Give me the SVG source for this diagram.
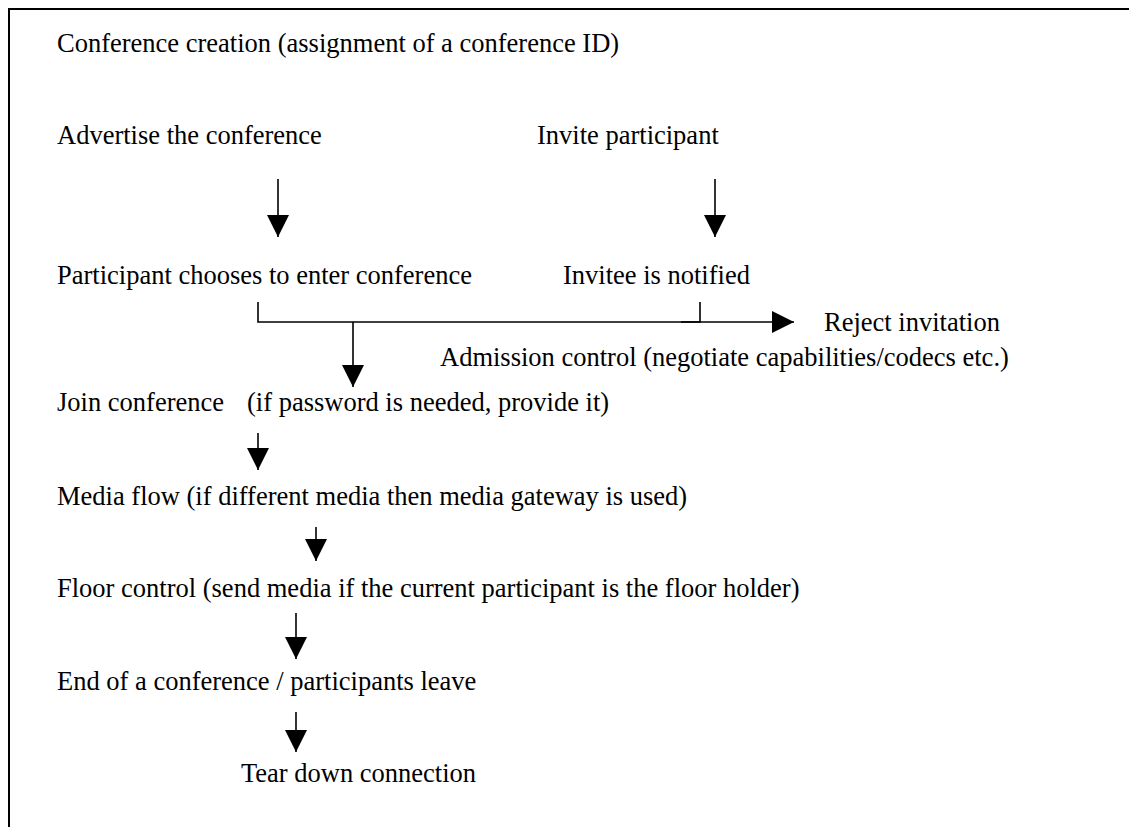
<svg xmlns="http://www.w3.org/2000/svg" width="1129" height="827" viewBox="0 0 1129 827">
  <style>
    text { font-family: "Liberation Serif", "Times New Roman", serif; font-size: 26.5px; fill: #000; }
    .ln { stroke: #000; stroke-width: 1.6; fill: none; }
    .frame { stroke: #000; stroke-width: 2; fill: #fff; }
  </style>
  <defs>
    <marker id="head" markerUnits="userSpaceOnUse" markerWidth="22" markerHeight="22" viewBox="0 0 20 20" refX="20" refY="10" orient="auto">
      <path d="M0,0 L20,10 L0,20 Z" fill="#000"/>
    </marker>
  </defs>

  <!-- page frame (open at right and bottom) -->
  <rect class="frame" x="9" y="9" width="1130" height="830"/>

  <g id="n-create"><text x="57" y="52">Conference creation (assignment of a conference ID)</text></g>
  <g id="n-advertise"><text x="57" y="144">Advertise the conference</text></g>
  <g id="n-invite"><text x="537" y="144">Invite participant</text></g>
  <g id="n-choose"><text x="57" y="284">Participant chooses to enter conference</text></g>
  <g id="n-notified"><text x="563" y="284">Invitee is notified</text></g>
  <g id="n-reject"><text x="824" y="331">Reject invitation</text></g>
  <g id="n-admission"><text x="440" y="366">Admission control (negotiate capabilities/codecs etc.)</text></g>
  <g id="n-join"><text x="57" y="411">Join conference<tspan x="247">(if password is needed, provide it)</tspan></text></g>
  <g id="n-media"><text x="57" y="505">Media flow (if different media then media gateway is used)</text></g>
  <g id="n-floor"><text x="57" y="597">Floor control (send media if the current participant is the floor holder)</text></g>
  <g id="n-end"><text x="57" y="690">End of a conference / participants leave</text></g>
  <g id="n-tear"><text x="241" y="782">Tear down connection</text></g>

  <g id="connectors">
    <line class="ln" x1="278" y1="179" x2="278" y2="237" marker-end="url(#head)"/>
    <line class="ln" x1="715" y1="179" x2="715" y2="237" marker-end="url(#head)"/>
    <path class="ln" d="M258,302 V322 H700 V302"/>
    <line class="ln" x1="681" y1="322" x2="794" y2="322" marker-end="url(#head)"/>
    <line class="ln" x1="353" y1="322" x2="353" y2="387" marker-end="url(#head)"/>
    <line class="ln" x1="258" y1="433" x2="258" y2="470" marker-end="url(#head)"/>
    <line class="ln" x1="316" y1="527" x2="316" y2="561" marker-end="url(#head)"/>
    <line class="ln" x1="296" y1="613" x2="296" y2="659" marker-end="url(#head)"/>
    <line class="ln" x1="296" y1="712" x2="296" y2="752" marker-end="url(#head)"/>
  </g>
</svg>
